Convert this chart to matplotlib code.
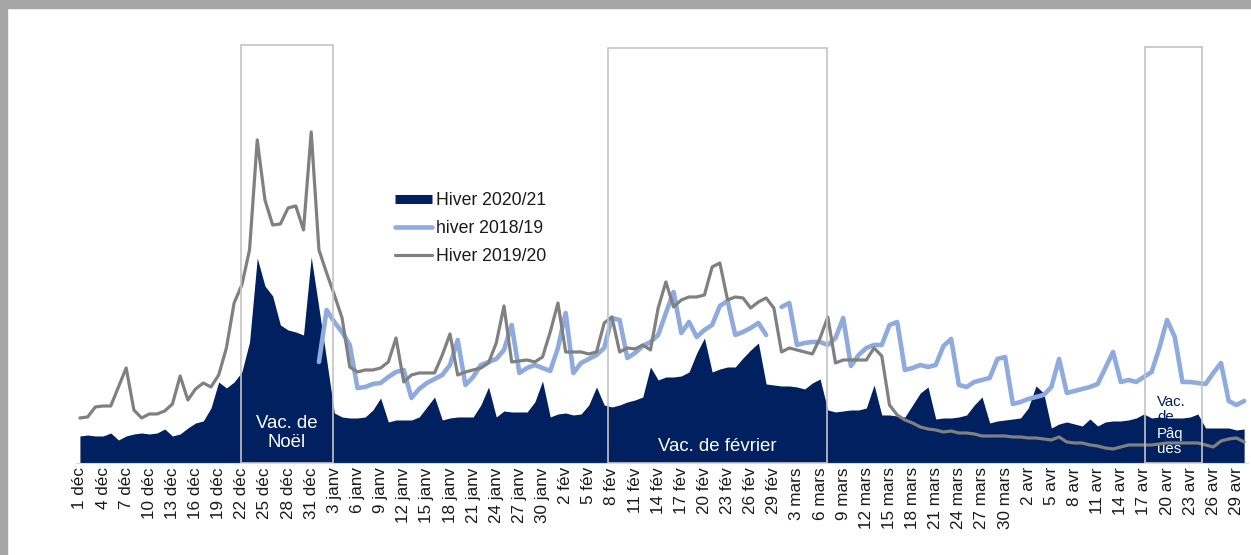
import numpy as np
import matplotlib
matplotlib.use("Agg")
import matplotlib.pyplot as plt
from matplotlib.patches import Rectangle
from matplotlib.lines import Line2D

plt.rcParams['font.family'] = ['Liberation Sans', 'DejaVu Sans']

# ---- données (lecture du graphique, unités arbitraires) ----
tick_labels = ['1 déc', '4 déc', '7 déc', '10 déc', '13 déc', '16 déc', '19 déc', '22 déc',
               '25 déc', '28 déc', '31 déc', '3 janv', '6 janv', '9 janv', '12 janv', '15 janv',
               '18 janv', '21 janv', '24 janv', '27 janv', '30 janv', '2 fév', '5 fév', '8 fév',
               '11 fév', '14 fév', '17 fév', '20 fév', '23 fév', '26 fév', '29 fév', '3 mars',
               '6 mars', '9 mars', '12 mars', '15 mars', '18 mars', '21 mars', '24 mars',
               '27 mars', '30 mars', '2 avr', '5 avr', '8 avr', '11 avr', '14 avr', '17 avr',
               '20 avr', '23 avr', '26 avr', '29 avr']

hiver_2021 = [27, 28, 27, 27, 30, 23, 27, 29, 30, 29, 30, 34, 27, 29, 35, 40, 42, 55, 81, 75,
              81, 91, 121, 205, 177, 167, 138, 133, 131, 128, 206, 155, 103, 50, 46, 45, 45, 46,
              53, 65, 41, 43, 43, 43, 46, 56, 66, 43, 45, 46, 46, 46, 58, 76, 46, 52, 51, 51, 51,
              61, 82, 46, 49, 50, 48, 49, 58, 76, 58, 56, 58, 61, 63, 66, 96, 83, 86, 86, 87, 91,
              110, 125, 91, 94, 96, 96, 105, 113, 120, 79, 78, 77, 77, 76, 74, 80, 84, 53, 51, 52,
              53, 53, 55, 78, 48, 48, 47, 46, 58, 70, 76, 44, 45, 45, 46, 48, 58, 66, 40, 42, 43,
              44, 45, 55, 77, 70, 35, 39, 41, 39, 37, 44, 37, 41, 42, 42, 43, 45, 49, 45, 46, 45,
              45, 45, 46, 49, 35, 35, 35, 35, 33, 34]

hiver_1819 = [np.nan] * 31 + [
              101, 153, 141, 131, 118, 75, 76, 79, 80, 86, 91, 93, 65, 74, 80, 84, 88, 98, 123,
              78, 86, 98, 101, 104, 113, 138, 90, 95, 98, 95, 92, 115, 150, 90, 100, 104, 108,
              115, 145, 143, 105, 110, 117, 121, 128, 150, 171, 130, 141, 126, 133, 138, 157, 162,
              128, 131, 135, 140, 128, np.nan, 156, 160, 118, 120, 121, 121, 118, 125, 145, 97,
              108, 115, 118, 118, 138, 141, 93, 95, 98, 96, 98, 117, 124, 78, 76, 81, 83, 85, 104,
              106, 59, 61, 64, 66, 68, 76, 104, 70, 72, 74, 76, 79, 95, 111, 81, 83, 81, 86, 91,
              115, 143, 126, 81, 81, 80, 79, 90, 100, 62, 58, 62]

hiver_1920 = [45, 46, 56, 57, 57, 76, 95, 53, 45, 49, 49, 52, 59, 87, 63, 74, 80, 76, 88, 115,
              160, 178, 213, 323, 263, 238, 239, 255, 257, 233, 331, 213, 190, 168, 145, 96, 91,
              93, 93, 95, 101, 125, 81, 88, 90, 90, 90, 108, 129, 88, 91, 93, 95, 100, 120, 157,
              101, 102, 103, 101, 106, 131, 160, 111, 111, 111, 109, 111, 140, 146, 111, 115, 114,
              118, 113, 155, 181, 156, 163, 166, 166, 168, 196, 200, 163, 166, 165, 155, 161, 165,
              155, 111, 115, 113, 111, 109, 125, 146, 100, 103, 103, 103, 103, 115, 107, 58, 48,
              43, 40, 36, 34, 33, 31, 32, 30, 30, 29, 27, 27, 27, 27, 26, 26, 25, 25, 24, 23, 26,
              21, 20, 20, 18, 17, 15, 14, 16, 18, 18, 18, 18, 19, 20, 20, 20, 20, 20, 18, 16, 22,
              24, 25, 21]

NAVY = '#002060'
BLUE = '#8FAADC'
GREY = '#808080'
BOX = '#C4C4C4'

days = np.arange(len(hiver_2021))

fig = plt.figure(figsize=(12.51, 5.55), dpi=100)
ax = fig.add_axes([0.0608, 0.1658, 0.9368, 0.7622])

# "Vac. de Pâques" : début en bleu foncé (en partie caché par la zone), fin en blanc
ax.text(139.7, 68, 'Vac.\nde', color=NAVY, fontsize=10.8, va='top', ha='left',
        linespacing=1.13, zorder=1)

ax.fill_between(days, 0, hiver_2021, color=NAVY, lw=0, zorder=2)
ax.text(139.7, 36, 'Pâq\nues', color='white', fontsize=10.8, va='top', ha='left',
        linespacing=1.13, zorder=3)

ax.plot(days, hiver_1819, color=BLUE, lw=3.3, solid_capstyle='round',
        solid_joinstyle='round', zorder=4)
ax.plot(days, hiver_1920, color=GREY, lw=2.3, solid_capstyle='round',
        solid_joinstyle='round', zorder=5)

# cadres des vacances
for x0, x1, top in [(20.9, 32.8, 418), (68.5, 96.9, 415), (138.1, 145.5, 416)]:
    ax.add_patch(Rectangle((x0, 0), x1 - x0, top, fill=False, edgecolor=BOX,
                           lw=1.2, zorder=6))

ax.text(26.85, 30, 'Vac. de\nNoël', color='white', fontsize=13.4, ha='center',
        va='center', linespacing=1.1, zorder=7)
ax.text(82.6, 16, 'Vac. de février', color='white', fontsize=13.4, ha='center',
        va='center', zorder=7)

ax.set_xlim(-0.5, 151.5)
ax.set_ylim(0, 423)
ax.set_xticks(days[::3])
ax.set_xticklabels(tick_labels, rotation=90, fontsize=12.3, color='#1a1a1a')
ax.tick_params(axis='x', length=0, pad=3)
ax.set_yticks([])
for s in ['top', 'right', 'left']:
    ax.spines[s].set_visible(False)
ax.spines['bottom'].set_color('#d9d9d9')
ax.spines['bottom'].set_linewidth(0.8)

handles = [Line2D([], [], color=NAVY, lw=6.5, solid_capstyle='butt'),
           Line2D([], [], color=BLUE, lw=3.3, solid_capstyle='round'),
           Line2D([], [], color=GREY, lw=2.3, solid_capstyle='round')]
fig.legend(handles, ['Hiver 2020/21', 'hiver 2018/19', 'Hiver 2019/20'],
           loc='upper left', bbox_to_anchor=(395 / 1251, 1 - 192 / 555),
           frameon=False, fontsize=12.7, handlelength=2.1, handletextpad=0.25,
           labelspacing=0.63, borderpad=0, borderaxespad=0, labelcolor='#1a1a1a')

# bordure grise (capture d'écran)
fig.patches.append(Rectangle((0, 1 - 8 / 555), 1, 8 / 555, transform=fig.transFigure,
                             color='#a6a6a6', zorder=10))
fig.patches.append(Rectangle((0, 0), 7 / 1251, 1, transform=fig.transFigure,
                             color='#a6a6a6', zorder=10))

fig.savefig('out.png', dpi=100)
